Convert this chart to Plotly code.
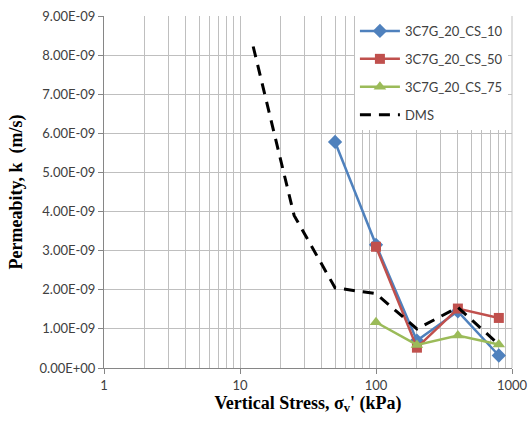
import plotly.graph_objects as go

stress_cs = [50, 100, 200, 400, 800]
k_cs10 = [5.78e-9, 3.15e-9, 0.70e-9, 1.45e-9, 0.32e-9]
stress_cs50 = [100, 200, 400, 800]
k_cs50 = [3.10e-9, 0.52e-9, 1.52e-9, 1.28e-9]
stress_cs75 = [100, 200, 400, 800]
k_cs75 = [1.17e-9, 0.59e-9, 0.83e-9, 0.60e-9]
stress_dms = [12.5, 25, 50, 100, 200, 400, 800]
k_dms = [8.22e-9, 3.90e-9, 2.05e-9, 1.90e-9, 1.00e-9, 1.55e-9, 0.60e-9]

x_ticks = [1, 10, 100, 1000]
x_ticklabels = ["1", "10", "100", "1000"]
x_minor = [m * d for d in (1, 10, 100) for m in range(2, 10)]
y_ticks = [i * 1e-9 for i in range(10)]
y_ticklabels = ["0.00E+00"] + [f"{i}.00E-09" for i in range(1, 10)]

fig = go.Figure()
fig.add_trace(go.Scatter(x=stress_cs, y=k_cs10, name="3C7G_20_CS_10", mode="lines+markers",
                         line=dict(color="#4F81BD", width=2.5),
                         marker=dict(symbol="diamond", size=11, color="#4F81BD"), legendgroup="a"))
fig.add_trace(go.Scatter(x=stress_cs50, y=k_cs50, name="3C7G_20_CS_50", mode="lines+markers",
                         line=dict(color="#C0504D", width=2.5),
                         marker=dict(symbol="square", size=10, color="#C0504D"), legendgroup="b"))
fig.add_trace(go.Scatter(x=stress_cs75, y=k_cs75, name="3C7G_20_CS_75", mode="lines+markers",
                         line=dict(color="#9BBB59", width=2.5),
                         marker=dict(symbol="triangle-up", size=11, color="#9BBB59"), legendgroup="c"))
fig.add_trace(go.Scatter(x=stress_dms, y=k_dms, name="DMS", mode="lines",
                         line=dict(color="black", width=3, dash="11px,8px"), legendgroup="d"))

grid_c = "#BFBFBF"
fig.update_layout(
    width=528, height=421,
    margin=dict(l=104, r=16, t=16, b=53, autoexpand=False),
    paper_bgcolor="white", plot_bgcolor="white",
    font=dict(family="Lato, 'Liberation Sans', sans-serif", size=13, color="#404040"),
    legend=dict(x=0.615, y=1.0, xanchor="left", yanchor="top",
                bgcolor="white", borderwidth=0, tracegroupgap=8,
                traceorder="grouped", itemwidth=40,
                font=dict(size=13, color="#404040")),
    xaxis=dict(type="log", range=[0, 3], tickvals=x_ticks, ticktext=x_ticklabels,
               automargin=False,
               showgrid=True, gridcolor=grid_c, gridwidth=1,
               minor=dict(tickvals=x_minor, showgrid=True, gridcolor=grid_c, gridwidth=1),
               ticks="outside", ticklen=5, tickcolor="#868686",
               showline=True, linecolor="#868686", mirror=False, zeroline=False,
               title=dict(text="<b>Vertical Stress, σ<sub>v</sub>' (kPa)</b>", standoff=3,
                          font=dict(family="Liberation Serif", size=18, color="black")),
               ),
    yaxis=dict(range=[0, 9e-9], tickvals=y_ticks, ticktext=y_ticklabels,
               automargin=False,
               showgrid=True, gridcolor=grid_c, gridwidth=1,
               ticks="outside", ticklen=5, tickcolor="#868686",
               showline=True, linecolor="#868686", zeroline=False,
               title=dict(text="<b>Permeabity, k  (m/s)</b>", standoff=12,
                          font=dict(family="Liberation Serif", size=18, color="black")),
               ),
)
fig.update_layout(shapes=[dict(type="line", xref="paper", yref="paper", x0=1, x1=1, y0=0, y1=1,
                               line=dict(color=grid_c, width=1))])
fig.write_html("out.html")
